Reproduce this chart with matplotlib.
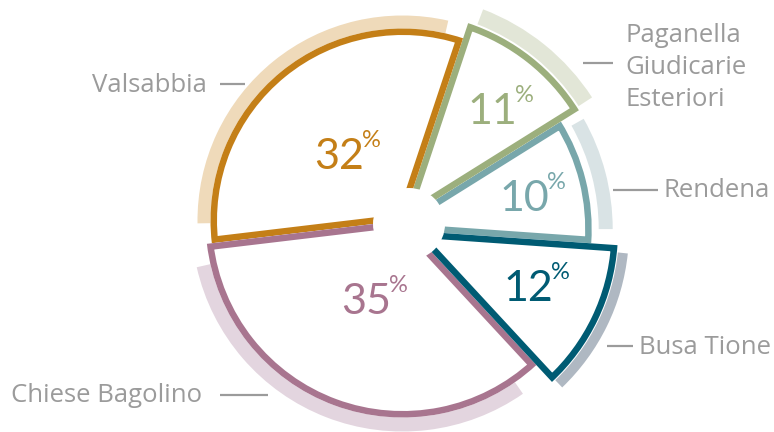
import numpy as np
import matplotlib
matplotlib.use("Agg")
import matplotlib.pyplot as plt
from matplotlib.patches import Wedge, Circle

# ---------------- data ----------------
regions = ["Rendena", "Paganella\nGiudicarie\nEsteriori", "Valsabbia", "Chiese Bagolino", "Busa Tione"]
shares = [10, 11, 32, 35, 12]

# ---------------- style ----------------
W, H = 774, 432
line_cols = ["#78A7AB", "#9CAF7D", "#C47F17", "#A8758F", "#005B73"]
band_cols = ["#D9E3E5", "#E2E6D7", "#EFDABA", "#E3D5DF", "#AFB8C2"]
start_angle = -4.0
base_center = (402.5, 220.5)                 # image px
apex_shift = [(-13.8, -8.6), (0, 0), (0, 0), (0, 0), (9.5, -10.3)]  # math px
outer_r = [203, 208, 192, 197, 206]
band_r = [(210, 224), (210, 226), (192, 205), (197, 211), (207, 217)]
band_trim = [(4, 2.5), (1, 2.5), (5.5, 6), (6, 8), (1, 2)]   # deg trimmed at theta1 / theta2
stroke_px = 6.5
hole_center = (409, 224)
hole_r = 36
lab_pos = [(524, 199), (492, 112), (339, 157), (366, 302), (528, 289)]  # image px (digits centre)
pct_fs = 31
cat_fs = 18.5
grey = "#9B9B9B"

def dy(y):
    return H - y

fig = plt.figure(figsize=(W / 100, H / 100), dpi=100)
ax = fig.add_axes([0, 0, 1, 1])
ax.set_xlim(0, W)
ax.set_ylim(0, H)
ax.axis("off")

angles = start_angle + 3.6 * np.concatenate([[0], np.cumsum(shares)])
for i, v in enumerate(shares):
    t1, t2 = angles[i], angles[i + 1]
    cx = base_center[0] + apex_shift[i][0]
    cy = dy(base_center[1]) + apex_shift[i][1]
    # outer band
    ri, ro = band_r[i]
    band = Wedge((cx, cy), ro, t1 + band_trim[i][0], t2 - band_trim[i][1], width=ro - ri,
                 facecolor=band_cols[i], edgecolor="none", zorder=1)
    ax.add_patch(band)
    # wedge with inner stroke
    w = Wedge((cx, cy), outer_r[i], t1, t2, facecolor="white", edgecolor=line_cols[i],
              linewidth=2 * stroke_px * 0.72, joinstyle="miter", zorder=2 + i * 0.01)
    ax.add_patch(w)
    w.set_clip_path(w)

ax.add_patch(Circle((hole_center[0], dy(hole_center[1])), hole_r, facecolor="white",
                    edgecolor="none", zorder=5))

# percentage labels
for i, v in enumerate(shares):
    x, y = lab_pos[i]
    ax.text(x, dy(y), f"{v}", color=line_cols[i], fontsize=pct_fs, family="Lato",
            fontweight="normal", ha="center", va="center", zorder=6)
    ax.text(x + 23, dy(y) + 6, "%", color=line_cols[i], fontsize=pct_fs * 0.55,
            family="Lato", fontweight="normal", ha="left", va="bottom", zorder=6)

# category labels + leader lines
cat_text = [(664, 196.7, "left"), (625, 41.7, "left"), (207, 92.5, "right"),
            (202, 402.5, "right"), (639, 354, "left")]
leaders = [((613, 658), 190), ((583, 613), 63), ((220, 245), 84), ((220, 268), 395), ((607, 633), 346)]
for i, name in enumerate(regions):
    x, yb, ha = cat_text[i]
    lines = name.split("\n")
    for k, ln in enumerate(lines):
        ax.text(x, dy(yb + 32.2 * k), ln, color=grey, fontsize=cat_fs, family="Open Sans",
                ha=ha, va="baseline", zorder=6)
    (x0, x1), ly = leaders[i]
    ax.plot([x0, x1], [dy(ly), dy(ly)], color=grey, lw=2.0 * 0.72 * 1.1, solid_capstyle="butt", zorder=6)

fig.savefig("out.png", dpi=100, facecolor="white")
